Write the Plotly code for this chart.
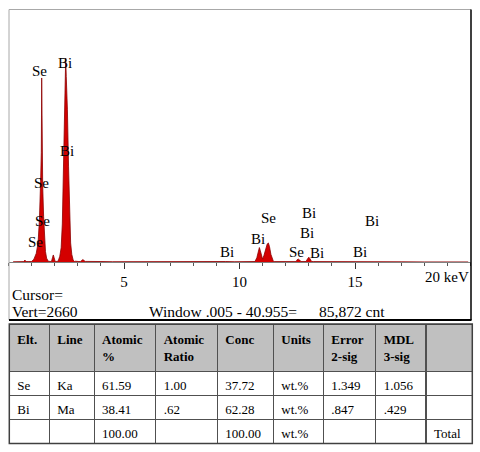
import plotly.graph_objects as go

W, H = 480, 452

# spectrum points (keV, counts)
base_kev = [0.2, 0.5, 0.85, 0.95, 1.8, 2.1, 2.9, 3.05, 3.4, 3.6, 4.0, 4.5, 5.0, 5.5, 6.0,
            6.5, 7.0, 7.5, 8.0, 8.5, 9.0, 9.4, 9.8, 10.2, 10.6, 11.5, 12.0, 12.3, 12.75,
            13.2, 13.6, 14.0, 14.5, 15.0, 15.3, 15.6, 16.0, 17.0, 18.0, 19.0, 19.9]
base_cnt = [2, 4, 5, 6, 6, 6, 8, 5, 6, 4, 5, 3, 4, 5, 3,
            4, 3, 4, 3, 3, 4, 5, 3, 4, 5, 4, 3, 4, 5,
            4, 3, 3, 2, 3, 4, 2, 2, 2, 1, 1, 1]

small_kev = [0.66, 0.71, 0.76, 1.86, 1.91, 1.94, 1.97, 2.02, 3.12, 3.22, 3.32]
small_cnt = [4, 20, 4, 6, 50, 74, 50, 6, 6, 25, 6]

se_l_kev = [1.00, 1.10, 1.20, 1.28, 1.34, 1.39, 1.42, 1.437, 1.45, 1.48, 1.52, 1.56, 1.60, 1.65, 1.72]
se_l_cnt = [5, 30, 90, 200, 450, 850, 1150, 1935, 1100, 800, 480, 260, 110, 40, 8]

bi_m_kev = [2.15, 2.22, 2.28, 2.33, 2.37, 2.42, 2.46, 2.476, 2.50, 2.55, 2.60, 2.64, 2.69, 2.74, 2.80, 2.86]
bi_m_cnt = [10, 60, 150, 400, 900, 1700, 2000, 2144, 1950, 1600, 1000, 500, 200, 80, 20, 5]

k_kev = [10.67, 10.75, 10.82, 10.86, 10.90, 10.96, 11.00, 11.06, 11.13, 11.20, 11.25, 11.30, 11.36, 11.42, 11.47,
         12.45, 12.50, 12.55, 12.60, 12.66, 12.88, 12.95, 13.00, 13.05, 13.12]
k_cnt = [5, 45, 120, 152, 120, 50, 30, 70, 140, 190, 200, 160, 80, 25, 5,
         4, 25, 30, 22, 4, 5, 35, 50, 35, 5]

pts = sorted(zip(base_kev + small_kev + se_l_kev + bi_m_kev + k_kev,
                 base_cnt + small_cnt + se_l_cnt + bi_m_cnt + k_cnt))
kev = [p[0] for p in pts]
cnt = [p[1] for p in pts]

# peak labels
label_text = ["Se", "Bi", "Bi", "Se", "Se", "Se", "Bi", "Bi", "Se", "Bi", "Bi", "Se", "Bi", "Bi", "Bi"]
label_kev = [1.36, 2.45, 2.52, 1.41, 1.48, 1.19, 9.45, 10.81, 11.25, 13.01, 12.94, 12.48, 13.37, 15.72, 15.22]
label_cnt = [2007, 2088, 1170, 833, 434, 207, 108, 239, 459, 512, 302, 108, 98, 434, 108]

# quant table
header = ["<b>Elt.</b>", "<b>Line</b>", "<b>Atomic<br>%</b>", "<b>Atomic<br>Ratio</b>", "<b>Conc</b>",
          "<b>Units</b>", "<b>Error<br>2-sig</b>", "<b>MDL<br>3-sig</b>", ""]
elt = ["Se", "Bi", ""]
line = ["Ka", "Ma", ""]
atomic_pct = ["61.59", "38.41", "100.00"]
atomic_ratio = ["1.00", ".62", ""]
conc = ["37.72", "62.28", "100.00"]
units = ["wt.%", "wt.%", "wt.%"]
err_2sig = ["1.349", ".847", ""]
mdl_3sig = ["1.056", ".429", ""]
total_col = ["", "", "Total"]

serif = "Liberation Serif, Times New Roman, serif"

fig = go.Figure()
fig.add_trace(go.Scatter(x=kev, y=cnt, mode="lines", fill="tozeroy",
                         line=dict(color="#8b0000", width=0.8), fillcolor="#d40000",
                         hoverinfo="skip", showlegend=False))

fig.add_trace(go.Table(
    domain=dict(x=[9.3 / W, 472.3 / W], y=[1 - 443.5 / H, 1 - 324 / H]),
    columnwidth=[40, 44.7, 61.7, 61.6, 56, 50, 52.4, 50.3, 46.3],
    header=dict(values=header, height=47, align="left", fill_color="#c0c0c0",
                line=dict(color="#505050", width=1),
                font=dict(family=serif, size=13, color="black")),
    cells=dict(values=[elt, line, atomic_pct, atomic_ratio, conc, units, err_2sig, mdl_3sig, total_col],
               height=24, align="left", fill_color="white",
               line=dict(color="#505050", width=1),
               font=dict(family=serif, size=13, color="black")),
))

for t, x, y in zip(label_text, label_kev, label_cnt):
    fig.add_annotation(x=x, y=y, xref="x", yref="y", text=t, showarrow=False,
                       xanchor="center", yanchor="middle",
                       font=dict(family=serif, size=15, color="black"))

fig.add_annotation(x=470.5 / W, y=1 - 277 / H, xref="paper", yref="paper", text="20 keV",
                   showarrow=False, xanchor="right", yanchor="middle",
                   font=dict(family=serif, size=15, color="black"))

status = [("Cursor=", 10, 294.5), ("Vert=2660", 10, 311),
          ("Window .005 - 40.955=", 146.5, 311), ("85,872 cnt", 316.5, 311)]
for t, px, py in status:
    fig.add_annotation(x=px / W, y=1 - py / H, xref="paper", yref="paper", text=t,
                       showarrow=False, xanchor="left", yanchor="middle",
                       font=dict(family=serif, size=15.5, color="black"))

# frame around the spectrum
fig.add_shape(type="line", xref="paper", yref="paper", x0=9 / W, x1=471 / W,
              y0=1 - 9.5 / H, y1=1 - 9.5 / H, line=dict(color="#a8a8a8", width=1))
fig.add_shape(type="line", xref="paper", yref="paper", x0=9 / W, x1=9 / W,
              y0=1 - 9.5 / H, y1=1 - 320 / H, line=dict(color="#a8a8a8", width=1))
fig.add_shape(type="line", xref="paper", yref="paper", x0=471 / W, x1=471 / W,
              y0=1 - 9.5 / H, y1=1 - 320 / H, line=dict(color="black", width=1.5))
fig.add_shape(type="line", xref="paper", yref="paper", x0=9 / W, x1=471.5 / W,
              y0=1 - 320 / H, y1=1 - 320 / H, line=dict(color="black", width=2))
fig.add_shape(type="rect", xref="paper", yref="paper", x0=9.3 / W, x1=472.3 / W,
              y0=1 - 443.5 / H, y1=1 - 324 / H, line=dict(color="#404040", width=1.5))

fig.update_layout(
    width=W, height=H, margin=dict(l=0, r=0, t=0, b=0),
    paper_bgcolor="white", plot_bgcolor="white",
    xaxis=dict(domain=[8.5 / W, 470.5 / W], range=[0, 20], showgrid=False, zeroline=False,
               showline=True, linecolor="#808080", linewidth=1,
               tickvals=[5, 10, 15], ticktext=["5", "10", "15"],
               ticks="outside", ticklen=6, tickcolor="#333333",
               minor=dict(dtick=1, ticks="outside", ticklen=3, tickcolor="#555555"),
               tickfont=dict(family=serif, size=15, color="black")),
    yaxis=dict(domain=[1 - 262 / H, 1 - 9 / H], range=[0, 2660], visible=False),
)

# page body has a default 8px margin, drop it so the figure sits at 0,0
fig.write_html("out.html", config={"displayModeBar": False},
               post_script="document.body.style.margin='0';")
